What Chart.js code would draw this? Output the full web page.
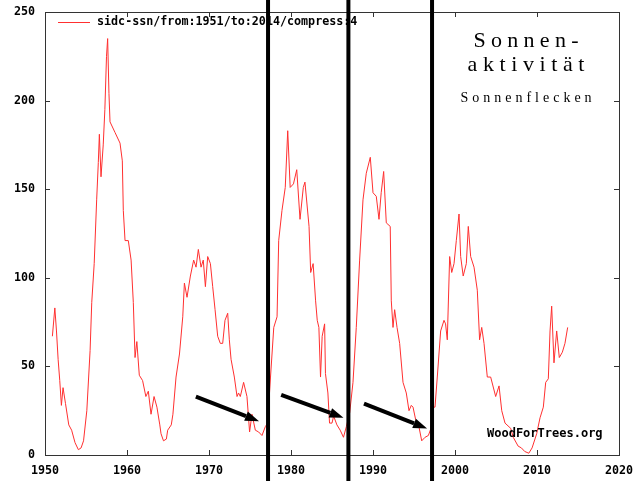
<!DOCTYPE html>
<html>
<head>
<meta charset="utf-8">
<script src="https://cdn.jsdelivr.net/npm/chart.js@4"></script>
<style>
  body { margin: 0; background: #fff; }
</style>
</head>
<body>
<canvas id="ssnChart" width="640" height="481"></canvas>
<script>
/* Sonnenflecken, SIDC, 4 Monate gemittelt */

// Jahre (Dezimal) und Werte
const jahre = [
  1950.9, 1951.2, 1951.4, 1951.6, 1951.8, 1952.0, 1952.2, 1952.5, 1952.9, 1953.25,
  1953.66, 1954.07, 1954.4, 1954.7, 1955.1, 1955.5, 1955.7, 1956.0, 1956.3, 1956.5,
  1956.63, 1956.83, 1957.1, 1957.3, 1957.5, 1957.64, 1957.8, 1957.93, 1958.54, 1959.15,
  1959.43, 1959.55, 1959.76, 1960.16, 1960.5, 1960.77, 1960.98, 1961.2, 1961.5, 1961.9,
  1962.3, 1962.6, 1962.93, 1963.3, 1963.65, 1964.0, 1964.15, 1964.45, 1964.8, 1964.96,
  1965.4, 1965.6, 1965.98, 1966.4, 1966.8, 1967.0, 1967.32, 1967.73, 1968.13, 1968.42,
  1968.7, 1969.03, 1969.3, 1969.56, 1969.84, 1970.17, 1970.45, 1970.74, 1971.06, 1971.38,
  1971.67, 1971.95, 1972.28, 1972.48, 1972.69, 1973.09, 1973.42, 1973.6, 1973.82, 1974.22,
  1974.63, 1974.95, 1975.24, 1975.65, 1976.05, 1976.46, 1976.87, 1977.15, 1977.5, 1977.9,
  1978.3, 1978.5, 1978.9, 1979.3, 1979.6, 1979.9, 1980.3, 1980.7, 1981.1, 1981.5,
  1981.7, 1982.2, 1982.4, 1982.7, 1983.0, 1983.2, 1983.4, 1983.6, 1983.8, 1984.1,
  1984.2, 1984.5, 1984.7, 1985.0, 1985.2, 1985.6, 1986.0, 1986.4, 1986.75, 1987.16,
  1987.56, 1987.96, 1988.37, 1988.78, 1989.18, 1989.67, 1990.0, 1990.4, 1990.73, 1991.0,
  1991.3, 1991.62, 1992.1, 1992.23, 1992.44, 1992.64, 1992.93, 1993.25, 1993.66, 1994.06,
  1994.39, 1994.67, 1994.88, 1995.2, 1995.6, 1995.94, 1996.35, 1996.75, 1997.07, 1997.3,
  1997.56, 1997.84, 1998.25, 1998.66, 1998.85, 1999.06, 1999.35, 1999.6, 1999.88, 2000.16,
  2000.49, 2000.69, 2001.0, 2001.38, 2001.62, 2001.91, 2002.32, 2002.72, 2003.0, 2003.26,
  2003.54, 2003.94, 2004.35, 2004.96, 2005.37, 2005.7, 2006.1, 2006.8, 2007.1, 2007.7,
  2008.1, 2008.5, 2009.0, 2009.4, 2009.96, 2010.37, 2010.77, 2011.06, 2011.38, 2011.59,
  2011.79, 2012.07, 2012.4, 2012.72, 2013.09, 2013.41, 2013.74
];
const sonnenflecken = [
  67, 83, 70, 54, 42, 28, 38, 29, 17, 14,
  7, 3, 4, 8, 25, 59, 86, 108, 144, 165,
  181, 157, 175, 195, 225, 235, 204, 188, 182, 176,
  166, 138, 121, 121, 110, 86, 55, 64, 45, 42,
  33, 36, 23, 33, 27, 17, 12, 8, 9, 14,
  17, 23, 44, 57, 78, 97, 89, 101, 110, 106,
  116, 106, 110, 95, 112, 108, 95, 82, 67, 63,
  63, 76, 80, 65, 54, 44, 33, 35, 33, 41,
  33, 13, 23, 14, 13, 11, 16, 18, 44, 72,
  78, 121, 138, 151, 183, 151, 153, 161, 133, 151,
  154, 129, 103, 108, 87, 76, 72, 44, 67, 74,
  46, 35, 18, 18, 22, 17, 14, 10, 16, 24,
  41, 72, 110, 144, 159, 168, 148, 146, 133, 148,
  160, 131, 129, 87, 72, 82, 72, 63, 41, 35,
  25, 28, 27, 20, 16, 8, 10, 11, 15, 27,
  27, 44, 70, 76, 74, 65, 112, 103, 108, 121,
  136, 112, 101, 108, 129, 112, 106, 93, 65, 72,
  63, 44, 44, 33, 39, 25, 18, 15, 10, 5,
  4, 2, 1, 4, 12, 21, 27, 41, 43, 70,
  84, 52, 70, 55, 58, 63, 72
];

// Achsen
const xTicks = [1950, 1960, 1970, 1980, 1990, 2000, 2010, 2020];
const yTicks = [0, 50, 100, 150, 200, 250];

// senkrechte Markierungen (Jahre)
const markJahre = [1977.2, 1987.0, 1997.2];

// Pfeile: [Jahr von, Wert von, Jahr bis, Wert bis]
const pfeile = [
  [1968.4, 33, 1976.1, 19],
  [1978.8, 34, 1986.4, 21],
  [1988.9, 29, 1996.6, 15]
];

const serieName = 'sidc-ssn/from:1951/to:2014/compress:4';
const monoFont = 'bold 11.7px "DejaVu Sans Mono", monospace';

function spacedText(ctx, text, cx, y, gap) {
  var total = 0;
  for (var i = 0; i < text.length; i++) total += ctx.measureText(text[i]).width;
  total += gap * (text.length - 1);
  var x = cx - total / 2;
  for (var j = 0; j < text.length; j++) {
    ctx.fillText(text[j], x, y);
    x += ctx.measureText(text[j]).width + gap;
  }
}

const deko = {
  id: 'deko',
  beforeDraw(chart) {
    var ctx = chart.ctx;
    ctx.save();
    ctx.fillStyle = '#fff';
    ctx.fillRect(0, 0, chart.width, chart.height);
    ctx.restore();
  },
  afterDraw(chart) {
    var ctx = chart.ctx;
    var a = chart.chartArea;
    var xs = chart.scales.x, ys = chart.scales.y;
    ctx.save();

    // Rahmen und Striche nach innen
    ctx.strokeStyle = '#333';
    ctx.lineWidth = 1;
    ctx.strokeRect(Math.round(a.left) + 0.5, Math.round(a.top) + 0.5,
      Math.round(a.right - a.left), Math.round(a.bottom - a.top));
    ctx.beginPath();
    xTicks.forEach(function (t) {
      var px = Math.round(xs.getPixelForValue(t)) + 0.5;
      ctx.moveTo(px, a.bottom); ctx.lineTo(px, a.bottom - 5);
      ctx.moveTo(px, a.top); ctx.lineTo(px, a.top + 5);
    });
    yTicks.forEach(function (t) {
      var py = Math.round(ys.getPixelForValue(t)) + 0.5;
      ctx.moveTo(a.left, py); ctx.lineTo(a.left + 5, py);
      ctx.moveTo(a.right, py); ctx.lineTo(a.right - 5, py);
    });
    ctx.stroke();

    // Legende
    ctx.strokeStyle = '#ff3030';
    ctx.beginPath();
    ctx.moveTo(58, 22.5); ctx.lineTo(90, 22.5);
    ctx.stroke();
    ctx.fillStyle = '#000';
    ctx.font = monoFont;
    ctx.textBaseline = 'middle';
    ctx.textAlign = 'left';
    ctx.fillText(serieName, 97, 22);

    // Quelle
    ctx.font = 'bold 12px "DejaVu Sans Mono", monospace';
    ctx.fillText('WoodForTrees.org', 487, 434);

    // Titel
    ctx.textBaseline = 'alphabetic';
    ctx.font = '22px "Liberation Serif", serif';
    spacedText(ctx, 'Sonnen-', 526, 47, 5.3);
    spacedText(ctx, 'aktivität', 526, 71, 5.6);
    ctx.font = '14px "Liberation Serif", serif';
    spacedText(ctx, 'Sonnenflecken', 526, 102, 4);

    // senkrechte Balken
    ctx.strokeStyle = '#000';
    ctx.lineWidth = 4;
    markJahre.forEach(function (j) {
      var px = xs.getPixelForValue(j);
      ctx.beginPath();
      ctx.moveTo(px, 0); ctx.lineTo(px, chart.height);
      ctx.stroke();
    });

    // Pfeile
    ctx.fillStyle = '#000';
    pfeile.forEach(function (p) {
      var x1 = xs.getPixelForValue(p[0]), y1 = ys.getPixelForValue(p[1]);
      var x2 = xs.getPixelForValue(p[2]), y2 = ys.getPixelForValue(p[3]);
      var ang = Math.atan2(y2 - y1, x2 - x1);
      var len = 14, half = 5;
      var bx = x2 - len * Math.cos(ang), by = y2 - len * Math.sin(ang);
      ctx.beginPath();
      ctx.moveTo(x1, y1); ctx.lineTo(bx, by);
      ctx.stroke();
      ctx.beginPath();
      ctx.moveTo(x2, y2);
      ctx.lineTo(bx + half * Math.sin(ang), by - half * Math.cos(ang));
      ctx.lineTo(bx - half * Math.sin(ang), by + half * Math.cos(ang));
      ctx.closePath();
      ctx.fill();
    });
    ctx.restore();
  }
};

var canvas = document.getElementById('ssnChart');
if (canvas) {
  var punkte = jahre.map(function (j, i) { return { x: j, y: sonnenflecken[i] }; });
  new Chart(canvas.getContext('2d'), {
    type: 'line',
    data: {
      datasets: [{
        label: serieName,
        data: punkte,
        borderColor: '#ff3030',
        borderWidth: 1,
        pointRadius: 0,
        tension: 0,
        fill: false
      }]
    },
    options: {
      responsive: false,
      animation: false,
      layout: { padding: { top: 12, right: 21, left: 0, bottom: 0 } },
      plugins: {
        legend: { display: false },
        tooltip: { enabled: false }
      },
      scales: {
        x: {
          type: 'linear',
          min: 1950, max: 2020,
          afterFit: function (s) {
            s.height = 26;
            s.paddingLeft = 0; s.paddingRight = 0;
          },
          afterBuildTicks: function (s) { s.ticks = xTicks.map(function (v) { return { value: v }; }); },
          grid: { display: false, drawTicks: false },
          border: { display: false },
          ticks: {
            padding: 9,
            color: '#000',
            font: { family: '"DejaVu Sans Mono", monospace', size: 11.7, weight: 'bold' },
            callback: function (v) { return String(v); }
          }
        },
        y: {
          min: 0, max: 250,
          afterFit: function (s) {
            s.width = 45;
            s.paddingTop = 0; s.paddingBottom = 0;
          },
          afterBuildTicks: function (s) { s.ticks = yTicks.map(function (v) { return { value: v }; }); },
          grid: { display: false, drawTicks: false },
          border: { display: false },
          ticks: {
            padding: 10,
            color: '#000',
            font: { family: '"DejaVu Sans Mono", monospace', size: 11.7, weight: 'bold' },
            callback: function (v) { return String(v); }
          }
        }
      }
    },
    plugins: [deko]
  });
}
</script>
</body>
</html>
